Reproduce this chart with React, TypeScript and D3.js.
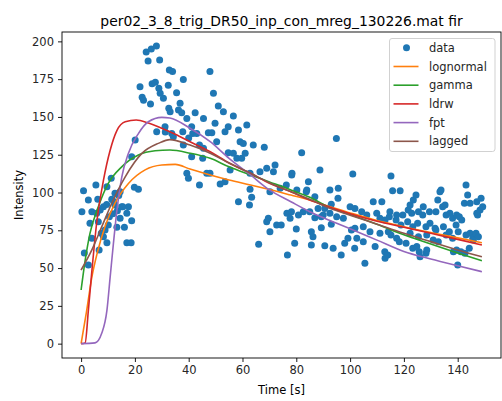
import { useEffect, useRef } from 'react';
import * as d3 from 'd3';

const TITLE = 'per02_3_8_trig_DR50_inp_con_mreg_130226.mat fir';
const X_LABEL = 'Time [s]';
const Y_LABEL = 'Intensity';

const xTicks = [0, 20, 40, 60, 80, 100, 120, 140];
const yTicks = [0, 25, 50, 75, 100, 125, 150, 175, 200];

// measured samples [time, intensity]
const dataPoints: [number, number][] = [
  [0.3, 87.3], [0.9, 101.2], [1.2, 60], [2.7, 52], [2.7, 95], [3.3, 79.6], [4, 87.3], [4, 69.7],
  [5.5, 105], [5.8, 86.2], [6.2, 95.5], [6.4, 80.7], [6.7, 62], [7.1, 88.4], [7.5, 73], [8.3, 90.6],
  [8.3, 70.8], [8.9, 75.2], [9.5, 92], [9.6, 103.8], [9.6, 66.8], [10.1, 78.5], [10.5, 84], [11.2, 109.4],
  [11.4, 95.5], [11.8, 86], [12.1, 94], [12.6, 99.5], [12.6, 91.7], [13.3, 77], [13.5, 88], [14, 98],
  [14.5, 100.5], [14.5, 82.9], [15.1, 90.6], [15.5, 90.6], [16.1, 77], [17, 86.2], [17, 66.8], [17.6, 90.6],
  [18.6, 66.8], [18.8, 81.3], [18.8, 123.7], [19.8, 103.4], [20.1, 134.7], [21.3, 102.1],
  [21.9, 170], [22.7, 163], [23.2, 161], [24.2, 193], [24.9, 187], [26.1, 195], [28, 197], [29.2, 187.6],
  [26.4, 172], [27.6, 173], [28.9, 169], [29.4, 165.6], [30.6, 162.3], [25.8, 158.5], [32.4, 171],
  [32.8, 181], [34, 180], [32.6, 155.7], [33.1, 153.4], [31.3, 140], [31.2, 143.5], [33.7, 139.1],
  [28.1, 140.2], [34.3, 136.9], [35.5, 166], [36.8, 159], [36.2, 154.6], [38, 174.7], [37.4, 152.8],
  [37.8, 140.2], [38, 131.4], [39.3, 149], [39.3, 112.7], [39.9, 109.4], [40, 136], [41.1, 143.5],
  [41.1, 123.7], [41.5, 139.1], [42.4, 152.8], [43, 139], [44, 131.4], [44, 105], [45.5, 149],
  [45.5, 129.2], [45.2, 122.6], [46.7, 112.7], [47.9, 112.7], [47.3, 139.6], [48.6, 139.6], [47.9, 180],
  [49.2, 165.6], [49.8, 145.8], [50.4, 133.6], [51, 157.2], [51.7, 105.6], [52.9, 153.4], [53.5, 107.1],
  [53.5, 140.2], [54.7, 143.5], [54.7, 126.3], [55.4, 114.9], [56.6, 150.6], [56.6, 125.9], [57.9, 122.6],
  [58.5, 93.9], [58.5, 141.3], [59.1, 133.6], [59.7, 122.6], [60.3, 132.5], [61, 125.9], [61.6, 144.6],
  [62.6, 91.7], [62.8, 112.7], [62.8, 102.1], [63.4, 96.8], [64, 131.4], [66, 65.7], [66.5, 113.8],
  [68.1, 129.9], [69, 116], [69, 80.7], [69.6, 82.9], [70.2, 100.5], [70.2, 74.1], [71.5, 113.8],
  [72.1, 118.2], [72.7, 78.5], [74, 102.8], [74.4, 78.5], [76.3, 105], [76.5, 86.2], [76.7, 58.7],
  [77.7, 82.9], [78.2, 87.3], [78.3, 111.6], [78.4, 112.7], [79.4, 66.4], [80, 75.9], [80.2, 101.7],
  [80.8, 85.1], [82, 126.3], [82.6, 87.3], [83.7, 100.5], [83.9, 101.7], [84.5, 107.1], [85, 87.3],
  [85.6, 74.1], [85.6, 65.3], [86.2, 70.8], [86.9, 97.2], [86.9, 83.3], [88.1, 89.5], [88.8, 114.9],
  [89.3, 76.7], [89.3, 84], [90, 85.1], [90.6, 89.5], [90.6, 64.8], [92.5, 101.7], [93, 92.2], [93, 79],
  [92.5, 86.2], [93.7, 63.1], [94.9, 135.8], [95, 84], [95.5, 96.2], [95.6, 102.8], [96.7, 58.7],
  [97.5, 82.9], [98, 66.4], [99.2, 69.7], [100, 90.6], [100.5, 75.2], [101, 112.2], [101.8, 89.5],
  [101.8, 76.3], [101.7, 63.1], [102.5, 69.7], [104.3, 87.3], [104.9, 77.4], [104.9, 67.5], [105.5, 53.2],
  [106.2, 85.1], [107.4, 74.1], [108.6, 93.9], [109.3, 64.2], [109.9, 86.2], [111.1, 82.9], [111.1, 73],
  [111.8, 93.9], [112.9, 60.8], [113, 81.8], [113, 56.5], [114, 58.7], [114.2, 74.1], [114.6, 84],
  [114.8, 87.3], [115.2, 110.9], [115.2, 71.9], [115.8, 101.2], [117.1, 81.8], [117.3, 85.1],
  [117.3, 69.7], [118.3, 67.5], [118.6, 101.2], [118.9, 78.5], [119.6, 85.1], [120.8, 66.4],
  [121.4, 80.7], [121.6, 88.4], [122.3, 91.7], [122.3, 73], [122.9, 86.2], [123.3, 77.4], [123.3, 63.1],
  [123.5, 95], [124.5, 98.3], [124.8, 64.2], [125.1, 79.6], [125.4, 87.3], [125.4, 70.8], [125.7, 60.8],
  [126, 57.5], [127, 85.1], [127.2, 90.6], [128.2, 77.4], [128.2, 59.8], [128.5, 71.9], [128.5, 62],
  [129.5, 87.3], [129.7, 79.6], [130.9, 68.6], [131.6, 76.3], [131.9, 75.2], [131.9, 87.3], [132.6, 95],
  [132.8, 67.5], [133.4, 100.5], [133.8, 101.7], [134.4, 90.6], [134.7, 77.4], [135.3, 91.7],
  [135.7, 85.1], [135.7, 71.9], [136.9, 74.1], [137.1, 86.2], [138.1, 82.9], [138.1, 69.7], [138.4, 60.8],
  [139.4, 78.5], [139.6, 85.1], [139.6, 62], [140, 52], [140.2, 74.1], [140.6, 84], [141.2, 60.8],
  [141.5, 81.8], [142.5, 92.9], [142.7, 59.8], [143.1, 105], [143.1, 71.9], [143.7, 98.3], [144.3, 63.1],
  [144.6, 92.9], [144.6, 73], [145.6, 69.7], [145.8, 68.6], [146.8, 73], [147.1, 93.9], [147.1, 86.2],
  [147.4, 85.1], [147.7, 70.8], [148.3, 88.4], [148.7, 96.2], [149.3, 90.6],
];

const lognormal: [number, number][] = [
  [0, 0], [2, 21], [4, 44], [6, 60], [9, 78], [12.6, 93], [17.6, 106], [23.8, 115], [30, 118.2],
  [35, 118.6], [40.5, 115.5], [48, 111.6], [55, 108.3], [63, 105], [70, 102], [78, 98.3], [85, 95],
  [92.5, 90.5], [100, 86.5], [110, 81.5], [120, 77.4], [130, 73.5], [140, 70], [149, 66.8],
];
const gamma: [number, number][] = [
  [0, 35.5], [1.5, 55], [3.3, 73], [6.4, 90.6], [10.1, 106], [15.1, 117], [21.3, 124.8], [27.5, 127.6],
  [33, 128.1], [40.5, 126], [48, 122.6], [55, 117], [63, 111.6], [70, 107], [78, 101.7], [85, 96.8],
  [92.5, 90], [100, 85.5], [110, 79], [120, 72], [130, 66], [140, 60], [149, 54.9],
];
const ldrw: [number, number][] = [
  [0, 0], [1.5, 0.5], [2.7, 22], [4, 48], [5.8, 80], [8.3, 108], [10.8, 128], [13.3, 141], [16.4, 146.8],
  [20.5, 148], [25, 146], [30, 142.5], [35, 138.5], [40.5, 133.6], [48, 127], [55, 119.5], [63, 112.7],
  [70, 106.1], [78, 100.5], [85, 95], [92.5, 90.3], [100, 86], [110, 81], [120, 77], [130, 73],
  [140, 69], [149, 65.3],
];
const fpt: [number, number][] = [
  [0, 0], [5.2, 0.5], [7.7, 7], [9.6, 22], [10.8, 44], [12, 66], [13.3, 88], [15.1, 110], [17.6, 126],
  [21.3, 139], [25, 146.8], [30, 149.7], [33, 149.3], [40.5, 142.5], [48, 133.6], [55, 122.6],
  [63, 111.6], [70, 101.7], [78, 93.9], [85, 87.3], [92.5, 81.5], [100, 76], [110, 68.5], [120, 61],
  [130, 56], [140, 51.5], [149, 47.6],
];
const lagged: [number, number][] = [
  [0, 48.7], [4, 62], [7.7, 77.4], [11.4, 92.9], [16.4, 110.4], [22.6, 125.9], [28.7, 132.5], [33, 135],
  [40.5, 131.4], [48, 126], [55, 119.5], [63, 112.7], [70, 106.5], [78, 100.5], [85, 95.5], [92.5, 89.5],
  [100, 85], [110, 79], [120, 73], [130, 67.5], [140, 62], [149, 57.5],
];

const fits = [
  { label: 'lognormal', color: '#ff7f0e', values: lognormal },
  { label: 'gamma', color: '#2ca02c', values: gamma },
  { label: 'ldrw', color: '#d62728', values: ldrw },
  { label: 'fpt', color: '#9467bd', values: fpt },
  { label: 'lagged', color: '#8c564b', values: lagged },
];

const width = 502;
const height = 401;
const plot = { left: 62, right: 501, top: 32, bottom: 358 };
const font = 'DejaVu Sans, sans-serif';

const App = () => {
  const svgRef = useRef<SVGSVGElement>(null);

  useEffect(() => {
    const svg = d3.select(svgRef.current);
    svg.selectAll('*').remove();

    const x = d3.scaleLinear().domain([-7.1, 156.1]).range([plot.left, plot.right]);
    const y = d3.scaleLinear().domain([-9.5, 206.2]).range([plot.bottom, plot.top]);

    // data points
    svg.append('g')
      .selectAll('circle')
      .data(dataPoints)
      .enter()
      .append('circle')
      .attr('cx', d => x(d[0]))
      .attr('cy', d => y(d[1]))
      .attr('r', 3.5)
      .attr('fill', '#1f77b4');

    // fitted curves
    const line = d3.line<[number, number]>()
      .x(d => x(d[0]))
      .y(d => y(d[1]))
      .curve(d3.curveMonotoneX);

    fits.forEach(f => {
      svg.append('path')
        .datum(f.values)
        .attr('fill', 'none')
        .attr('stroke', f.color)
        .attr('stroke-width', 1.6)
        .attr('d', line);
    });

    // axes
    const xAxis = svg.append('g')
      .attr('transform', `translate(0,${plot.bottom})`)
      .call(d3.axisBottom(x).tickValues(xTicks).tickSize(4).tickPadding(4));
    const yAxis = svg.append('g')
      .attr('transform', `translate(${plot.left},0)`)
      .call(d3.axisLeft(y).tickValues(yTicks).tickSize(4).tickPadding(4));
    [xAxis, yAxis].forEach(a => {
      a.select('.domain').remove();
      a.selectAll('line').attr('stroke', '#000').attr('stroke-width', 0.9);
      a.selectAll('text')
        .attr('fill', '#262626')
        .style('font-family', font)
        .style('font-size', '11.5px');
    });

    svg.append('rect')
      .attr('x', plot.left)
      .attr('y', plot.top)
      .attr('width', plot.right - plot.left)
      .attr('height', plot.bottom - plot.top)
      .attr('fill', 'none')
      .attr('stroke', '#000')
      .attr('stroke-width', 0.9);

    // labels
    svg.append('text')
      .attr('x', (plot.left + plot.right) / 2)
      .attr('y', 26)
      .attr('text-anchor', 'middle')
      .style('font-family', font)
      .style('font-size', '13.9px')
      .text(TITLE);

    svg.append('text')
      .attr('x', (plot.left + plot.right) / 2)
      .attr('y', 394)
      .attr('text-anchor', 'middle')
      .style('font-family', font)
      .style('font-size', '11.5px')
      .text(X_LABEL);

    svg.append('text')
      .attr('transform', `translate(23,${(plot.top + plot.bottom) / 2}) rotate(-90)`)
      .attr('text-anchor', 'middle')
      .style('font-family', font)
      .style('font-size', '11.5px')
      .text(Y_LABEL);

    // legend
    const legend = svg.append('g').attr('transform', 'translate(389.5,38.5)');
    legend.append('rect')
      .attr('width', 105.5)
      .attr('height', 113)
      .attr('rx', 2.5)
      .attr('fill', 'rgba(255,255,255,0.8)')
      .attr('stroke', '#cccccc')
      .attr('stroke-width', 0.9);

    const items = [{ label: 'data', color: '#1f77b4' }, ...fits];
    items.forEach((it, i) => {
      const row = legend.append('g').attr('transform', `translate(0,${9.3 + i * 18.7})`);
      if (i === 0) {
        row.append('circle').attr('cx', 17).attr('cy', 0).attr('r', 3.5).attr('fill', it.color);
      } else {
        row.append('line')
          .attr('x1', 4).attr('x2', 29)
          .attr('y1', 0).attr('y2', 0)
          .attr('stroke', it.color)
          .attr('stroke-width', 1.6);
      }
      row.append('text')
        .attr('x', 39.5)
        .attr('y', 0)
        .attr('dy', '0.35em')
        .style('font-family', font)
        .style('font-size', '11.5px')
        .attr('fill', '#262626')
        .text(it.label);
    });
  }, []);

  return (
    <svg
      ref={svgRef}
      width={width}
      height={height}
      style={{ position: 'absolute', left: 0, top: 0, background: '#fff' }}
    />
  );
};

export default App;
